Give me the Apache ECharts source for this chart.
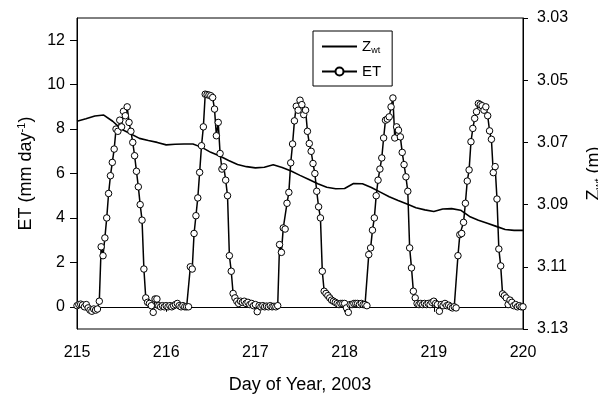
<!DOCTYPE html>
<html>
<head>
<meta charset="utf-8">
<script src="https://cdn.jsdelivr.net/npm/echarts@6/dist/echarts.min.js"></script>
<style>
  html, body { margin: 0; padding: 0; background: #fff; }
  #chart { width: 598px; height: 395px; }
</style>
</head>
<body>
<div id="chart"></div>
<script>
const FONT = "'Liberation Sans', Arial, Helvetica, sans-serif";

// ET (mm/day), half-hourly samples, 48 per day starting at 0:00
const etDay215 = [0.05, 0.1, 0.12, 0.08, 0.0, 0.1, -0.05, -0.15, -0.2, -0.1, -0.15, -0.1,
  0.25, 2.7, 2.3, 3.1, 4.0, 5.1, 5.9, 6.5, 7.1, 8.0, 7.9, 8.4,
  8.1, 8.8, 8.6, 9.0, 8.3, 7.9, 7.4, 6.8, 6.1, 5.4, 4.6, 3.9,
  1.7, 0.4, 0.2, 0.15, 0.05, -0.25, 0.35, 0.35, 0.05, 0.0, 0.05, 0.0];
const etDay216 = [0.05, 0.0, 0.05, 0.0, 0.05, 0.1, 0.15, 0.05, 0.0, 0.05, 0.0, 0.0,
  0.0, 1.8, 1.7, 3.3, 4.1, 4.9, 6.05, 7.25, 8.1, 9.57, 9.55, 9.53,
  9.5, 9.42, 8.9, 7.7, 8.3, 6.9, 6.2, 6.3, 5.7, 5.0, 2.3, 1.6,
  0.6, 0.4, 0.25, 0.15, 0.25, 0.2, 0.25, 0.15, 0.2, 0.1, 0.15, 0.05];
const etDay217 = [0.1, -0.22, 0.05, 0.0, 0.05, 0.0, 0.03, 0.0, 0.05, 0.0, 0.02, 0.0,
  0.05, 2.8, 2.45, 3.55, 3.5, 4.66, 5.15, 6.48, 7.33, 8.37, 9.03, 8.85,
  9.3, 9.1, 8.65, 8.85, 7.9, 7.35, 7.0, 6.45, 6.0, 5.2, 4.5, 4.0,
  1.6, 0.7, 0.6, 0.5, 0.4, 0.3, 0.25, 0.2, 0.15, 0.1, 0.15, 0.15];
const etDay218 = [0.15, -0.05, -0.25, 0.1, 0.1, 0.15, 0.15, 0.15, 0.1, 0.15, 0.1, 0.1,
  0.05, 2.35, 2.65, 3.45, 4.0, 5.0, 5.7, 6.2, 6.7, 7.6, 8.4, 8.45,
  8.55, 9.0, 9.4, 7.6, 8.1, 7.95, 7.65, 6.95, 6.4, 5.85, 5.2, 2.65,
  1.75, 0.7, 0.4, 0.15, 0.1, 0.15, 0.1, 0.15, 0.1, 0.15, 0.1, 0.2];
const etDay219 = [0.25, 0.15, 0.1, -0.2, 0.1, 0.05, 0.15, 0.05, 0.07, 0.0, -0.05, 0.0,
  -0.05, 2.3, 3.25, 3.3, 3.8, 4.66, 5.66, 6.16, 7.43, 8.03, 8.48, 8.78,
  9.15, 9.1, 9.05, 8.85, 9.0, 8.6, 7.92, 7.54, 6.04, 6.31, 4.85, 2.6,
  1.84, 0.58, 0.5, 0.4, 0.1, 0.3, 0.2, 0.05, 0.1, 0.0, 0.05, 0.0,
  0.0];

// water table depth Zwt (m), every 0.1 day from 215.0 to 220.0
const zwtValues = [3.0632, 3.0624, 3.0615, 3.0612, 3.0632, 3.0658, 3.0672, 3.0687, 3.0694, 3.0700,
  3.0708, 3.0706, 3.0705, 3.0705, 3.0716, 3.0732, 3.0744, 3.0758, 3.0771, 3.0778,
  3.0782, 3.0780, 3.0772, 3.0781, 3.0792, 3.0806, 3.0819, 3.0833, 3.0844, 3.0849,
  3.0848, 3.0832, 3.0833, 3.0845, 3.0860, 3.0875, 3.0887, 3.0898, 3.0910, 3.0917,
  3.0922, 3.0914, 3.0913, 3.0918, 3.0938, 3.0950, 3.0960, 3.0970, 3.0980, 3.0983,
  3.0983];

const etTicks = [0, 2, 4, 6, 8, 10, 12];
const zwtTicks = [3.03, 3.05, 3.07, 3.09, 3.11, 3.13];

const etDays = [etDay215, etDay216, etDay217, etDay218, etDay219];
const etData = [];
etDays.forEach((vals, d) => {
  vals.forEach((v, i) => etData.push([215 + d + i / 48, v]));
});
const zwtData = zwtValues.map((v, i) => [215 + i / 10, v]);

const chart = echarts.init(document.getElementById("chart"), null, { renderer: "canvas" });

const axisText = { color: "#000", fontSize: 16, fontFamily: FONT };
const blackLine = { lineStyle: { color: "#000", width: 1 } };

chart.setOption({
  animation: false,
  backgroundColor: "#fff",
  textStyle: { fontFamily: FONT },
  grid: {
    left: 77, right: 75, top: 18, bottom: 66,
    outerBoundsMode: "none",
    containLabel: false,
    show: true, borderColor: "#000", borderWidth: 1,
  },
  legend: {
    orient: "vertical",
    left: 313,
    top: 31,
    padding: [8, 11, 7, 8],
    itemWidth: 35,
    itemHeight: 10,
    itemGap: 9,
    borderColor: "#000",
    borderWidth: 1,
    backgroundColor: "#fff",
    data: [
      { name: "Zwt", icon: "path://M0 0H35V2H0Z" },
      { name: "ET" },
    ],
    formatter: (name) => (name === "Zwt" ? "Z{sub|wt}" : name),
    textStyle: {
      color: "#000", fontSize: 15, fontFamily: FONT,
      rich: { sub: { fontSize: 9, verticalAlign: "top", padding: [8, 0, 0, 0], fontFamily: FONT, color: "#000" } },
    },
  },
  xAxis: {
    type: "value",
    min: 215,
    max: 220,
    interval: 1,
    name: "Day of Year, 2003",
    nameLocation: "middle",
    nameGap: 47,
    nameTextStyle: { color: "#000", fontSize: 18, fontFamily: FONT },
    axisLine: blackLine,
    axisTick: { inside: false, length: 5, lineStyle: { color: "#000" } },
    axisLabel: { ...axisText, margin: 16 },
    splitLine: { show: false },
  },
  yAxis: [
    {
      type: "value",
      position: "left",
      min: -1,
      max: 13,
      name: "ET (mm day{sup|-1})",
      nameLocation: "middle",
      nameRotate: 90,
      nameGap: 41,
      nameTextStyle: {
        color: "#000", fontSize: 18, fontFamily: FONT,
        rich: { sup: { fontSize: 11, verticalAlign: "bottom", padding: [0, 0, 9, 0], fontFamily: FONT, color: "#000" } },
      },
      axisLine: { show: true, ...blackLine },
      axisTick: { show: true, length: 7, customValues: etTicks, lineStyle: { color: "#000" } },
      axisLabel: { ...axisText, margin: 12, customValues: etTicks },
      splitLine: { show: false },
    },
    {
      type: "value",
      position: "right",
      inverse: true,
      min: 3.03,
      max: 3.13,
      name: "Z{sub|wt} (m)",
      nameLocation: "middle",
      nameRotate: 90,
      nameGap: 61,
      nameTextStyle: {
        color: "#000", fontSize: 18, fontFamily: FONT,
        rich: { sub: { fontSize: 11, verticalAlign: "top", padding: [9, 0, 0, 0], fontFamily: FONT, color: "#000" } },
      },
      axisLine: { show: true, ...blackLine },
      axisTick: { show: true, length: 5, customValues: zwtTicks, lineStyle: { color: "#000" } },
      axisLabel: { ...axisText, margin: 14, customValues: zwtTicks, formatter: (v) => v.toFixed(2) },
      splitLine: { show: false },
    },
  ],
  series: [
    {
      name: "Zwt",
      type: "line",
      yAxisIndex: 1,
      data: zwtData,
      symbol: "none",
      lineStyle: { color: "#000", width: 1.6 },
      itemStyle: { color: "#000" },
      z: 2,
    },
    {
      name: "ET",
      type: "line",
      yAxisIndex: 0,
      data: etData,
      symbol: "circle",
      symbolSize: 6.5,
      showAllSymbol: true,
      lineStyle: { color: "#000", width: 1.5 },
      itemStyle: { color: "#fff", borderColor: "#000", borderWidth: 1 },
      z: 3,
    },
  ],
});
</script>
</body>
</html>
